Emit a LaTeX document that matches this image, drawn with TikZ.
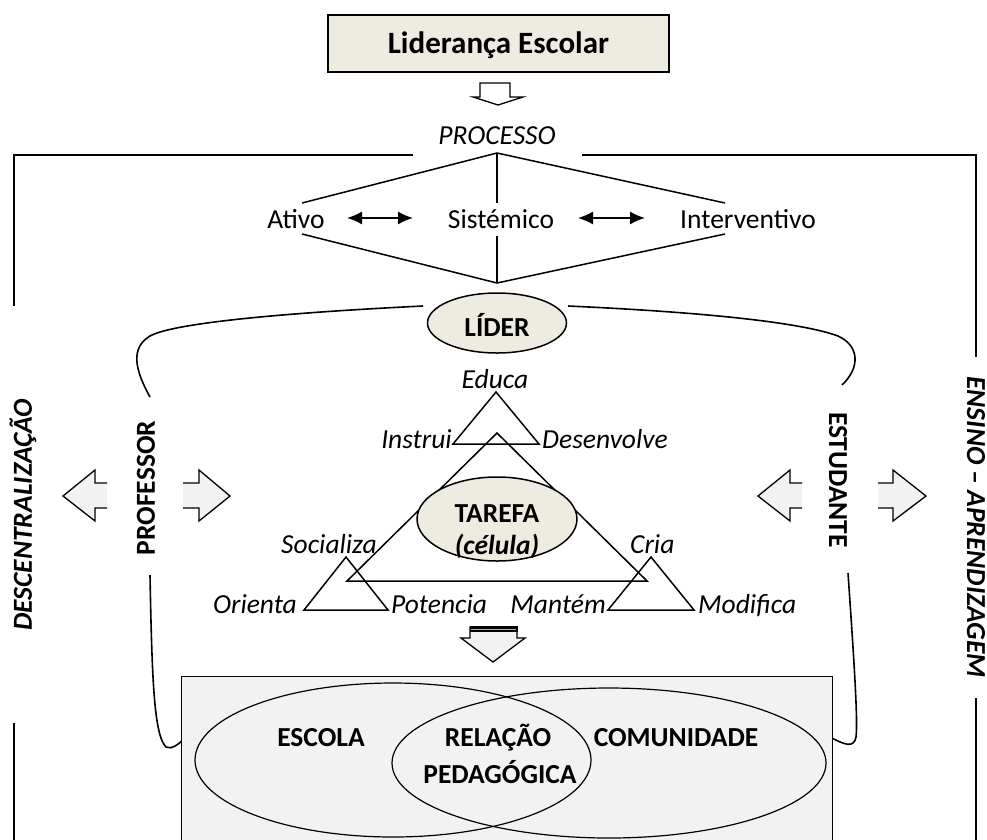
\documentclass[tikz,border=0pt]{standalone}
\usepackage{fontspec}
\setmainfont{Carlito}
\usetikzlibrary{shapes.geometric,arrows.meta}
\definecolor{beige}{HTML}{EEECE1}
\definecolor{lgray}{HTML}{F2F2F2}
\begin{document}
\begin{tikzpicture}[x=1pt,y=-1pt,
  lbl/.style={inner sep=0pt,text height=17.7pt,text depth=0pt,font=\fontsize{27.5}{33}\selectfont},
  ilbl/.style={lbl,font=\fontsize{27.5}{33}\selectfont\itshape},
  blbl/.style={lbl,font=\fontsize{27.5}{33}\selectfont\bfseries},
  bilbl/.style={lbl,font=\fontsize{27.5}{33}\selectfont\bfseries\itshape},
  ln/.style={line width=1.5pt},
  framelines/.style={line width=2pt},
  blockarrow/.style={line width=1.3pt, fill=lgray},
  dblarrow/.style={line width=1.5pt,{Latex[length=15pt,width=13pt]}-{Latex[length=15pt,width=13pt]}},
  curve/.style={line width=1.6pt}
]
\useasboundingbox (0,0) rectangle (987,839);

% title
\node[draw, line width=1.5pt, fill=beige, minimum width=341pt, minimum height=57pt, inner sep=0pt,
      text height=20pt, text depth=0pt, font=\fontsize{31}{36}\selectfont\bfseries] (title) at (498.5,43.5) {Liderança Escolar};
\draw[line width=1.3pt, fill=white] (480,83) -- (510,83) -- (510,97) -- (523,97) -- (498,105) -- (473,97) -- (480,97) -- cycle;
\node[ilbl] (processo) at (497,136) {PROCESSO};

% outer frame
\draw[framelines] (14,306) -- (14,155) -- (413,155);
\draw[framelines] (582,155) -- (976,155) -- (976,357);
\draw[framelines] (14,723) -- (14,850);
\draw[framelines] (976,698) -- (976,850);
\node[bilbl, rotate=90] (descent) at (23,515) {DESCENTRALIZAÇÃO};
\node[bilbl, rotate=-90] (ensino) at (976,527) {ENSINO – APRENDIZAGEM};

% diamond
\coordinate (dtop) at (497,153);
\coordinate (dbot) at (497,283);
\coordinate (dl1) at (302,203); \coordinate (dl2) at (302,234);
\coordinate (dr1) at (725,203); \coordinate (dr2) at (725,234);
\coordinate (dm1) at (497,203); \coordinate (dm2) at (497,236);
\draw[ln] (dl1) -- (dtop) -- (dr1);
\draw[ln] (dl2) -- (dbot) -- (dr2);
\draw[ln] (dtop) -- (dm1);
\draw[ln] (dm2) -- (dbot);
\node[lbl] (ativo) at (296,220) {Ativo};
\node[lbl] (sistemico) at (501,220) {Sistémico};
\node[lbl] (interv) at (748,220) {Interventivo};
\coordinate (a1) at (347,218); \coordinate (a2) at (413,218);
\coordinate (a3) at (578,218); \coordinate (a4) at (645,218);
\draw[dblarrow] (a1) -- (a2);
\draw[dblarrow] (a3) -- (a4);

% leader
\node[ellipse, draw, ln, fill=beige, minimum width=139pt, minimum height=60pt, inner sep=0pt] (lider) at (497,323) {};
\node[blbl] (lidertxt) at (497,328) {LÍDER};

% curves
\coordinate (cl0) at (423,306); \coordinate (cl1) at (150,397);
\coordinate (cr0) at (568,306); \coordinate (cr1) at (842,385);
\draw[curve] (cl0) .. controls (300,312) and (175,322) .. (150,336) .. controls (130,348) and (135,370) .. (cl1);
\draw[curve] (cr0) .. controls (700,312) and (800,322) .. (838,336) .. controls (860,346) and (860,368) .. (cr1);
\node[blbl, rotate=90] (prof) at (146,488) {PROFESSOR};
\node[blbl, rotate=-90] (estud) at (838,480) {ESTUDANTE};
\coordinate (cl2) at (150,575); \coordinate (cl3) at (182,741);
\coordinate (cr2) at (848,573); \coordinate (cr3) at (832,738);
\draw[curve] (cl2) .. controls (152,680) and (154,735) .. (166,747) .. controls (172,750) and (178,744) .. (cl3);
\draw[curve] (cr2) .. controls (854,660) and (858,720) .. (856,737) .. controls (854,748) and (845,745) .. (cr3);

% side block arrows
\fill[lgray] (107,483) -- (95,483) -- (95,470) -- (63,496) -- (95,521) -- (95,508) -- (107,508) -- cycle;
\draw[line width=1.3pt] (107,483) -- (95,483) -- (95,470) -- (63,496) -- (95,521) -- (95,508) -- (107,508);
\fill[lgray] (183,483) -- (199,483) -- (199,470) -- (230,496) -- (199,521) -- (199,508) -- (183,508) -- cycle;
\draw[line width=1.3pt] (183,483) -- (199,483) -- (199,470) -- (230,496) -- (199,521) -- (199,508) -- (183,508);
\fill[lgray] (802,483) -- (790,483) -- (790,470) -- (758,496) -- (790,521) -- (790,508) -- (802,508) -- cycle;
\draw[line width=1.3pt] (802,483) -- (790,483) -- (790,470) -- (758,496) -- (790,521) -- (790,508) -- (802,508);
\fill[lgray] (878,483) -- (893,483) -- (893,470) -- (926,496) -- (893,521) -- (893,508) -- (878,508) -- cycle;
\draw[line width=1.3pt] (878,483) -- (893,483) -- (893,470) -- (926,496) -- (893,521) -- (893,508) -- (878,508);

% triangles
\draw[ln] (496,392) -- (539,444) -- (453,444) -- cycle;
\draw[ln] (497,433) -- (647,581) -- (347,581) -- cycle;
\draw[ln] (346,557) -- (388,610) -- (304,610) -- cycle;
\draw[ln] (651,557) -- (694,610) -- (608,610) -- cycle;
\node[ellipse, draw, ln, fill=beige, minimum width=160pt, minimum height=84pt, inner sep=0pt] (tarefa) at (497,519) {};
\node[blbl] (tarefatxt) at (497,514) {TAREFA};
\node[bilbl] (celula) at (497,546) {(célula)};
\node[ilbl] (educa) at (495,380) {Educa};
\node[ilbl, anchor=east] (instrui) at (452,440) {Instrui};
\node[ilbl, anchor=west] (desenv) at (542,440) {Desenvolve};
\node[ilbl, anchor=east] (socializa) at (377,545) {Socializa};
\node[ilbl, anchor=west] (cria) at (630,545) {Cria};
\node[ilbl, anchor=east] (orienta) at (297,605) {Orienta};
\node[ilbl, anchor=west] (potencia) at (391,605) {Potencia};
\node[ilbl, anchor=east] (mantem) at (606,605) {Mantém};
\node[ilbl, anchor=west] (modifica) at (698,605) {Modifica};

% bottom arrow
\draw[blockarrow] (470,627) -- (517,627) -- (517,638) -- (525,638) -- (493,662) -- (461,638) -- (470,638) -- cycle;
\fill[black] (469.5,625.5) rectangle (517.5,632);
\draw[gray!60, line width=0.6pt] (471,629) -- (516,629);

% bottom box
\node[draw, line width=1.3pt, fill=lgray, minimum width=651pt, minimum height=190pt, inner sep=0pt, anchor=north west] (base) at (181,676) {};
\node[ellipse, draw, line width=1.2pt, minimum width=396pt, minimum height=154pt, inner sep=0pt] (escola) at (393,760) {};
\node[ellipse, draw, line width=1.2pt, minimum width=434pt, minimum height=150pt, inner sep=0pt] (comun) at (609,763) {};
\node[blbl] (escolatxt) at (321,738) {ESCOLA};
\node[blbl] (rel1) at (498,738) {RELAÇÃO};
\node[blbl] (rel2) at (500,775) {PEDAGÓGICA};
\node[blbl] (comtxt) at (676,738) {COMUNIDADE};
\end{tikzpicture}
\end{document}
